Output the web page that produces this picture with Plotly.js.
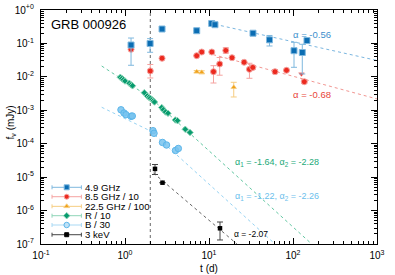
<!DOCTYPE html>
<html><head><meta charset="utf-8">
<script src="https://cdn.plot.ly/plotly-3.0.1.min.js"></script>
<style>html,body{margin:0;padding:0;background:#fff}#chart{width:395px;height:275px}</style>
</head><body><div id="chart"></div>
<script>
// ---- data ----
var radio49T  = [1.18, 1.99, 2.76, 7.14, 10.77, 11.78, 33.4, 52.5, 102.8, 129, 146.7];
var radio49F  = [0.0897, 0.0995, 0.270, 0.240, 0.395, 0.363, 0.202, 0.128, 0.0606, 0.0535, 0.122];
var radio49Hi = [0.145, 0.139, null, null, null, null, null, 0.173, 0.108, 0.0942, null];
var radio49Lo = [0.0222, 0.0543, null, null, null, null, null, 0.0838, 0.0193, 0.0122, null];

var radio85T  = [1.18, 2.0, 2.76, 7.14, 8.19, 10.8, 11.31, 13.4, 15.85, 18.79, 26.2, 30.3, 33.2, 61.1, 83.7, 136.4];
var radio85F  = [0.0667, 0.0150, 0.0359, 0.0430, 0.0554, 0.0554, 0.01427, 0.0243, 0.0615, 0.0374, 0.0273, 0.0168, 0.0191, 0.01427, 0.0157, 0.00716];
var radio85Hi = [null, 0.0234, null, null, null, null, 0.0216, 0.0379, 0.0745, null, null, 0.0255, 0.0215, 0.0165, null, 0.0082];
var radio85Lo = [null, 0.00925, null, null, null, null, 0.00655, 0.0112, 0.0507, null, null, 0.00906, 0.0170, 0.0125, null, 0.0063];
var radio85LimT = [126];
var radio85LimF = [0.0122];

var radio225T  = [7.14, 8.19, 19.7];
var radio225F  = [0.01427, 0.01369, 0.00487];
var radio225Hi = [0.0155, 0.0152, 0.00688];
var radio225Lo = [0.0131, 0.0123, 0.0025];

var optRT = [0.879, 0.920, 0.959, 1.0, 1.125, 1.179, 1.229, 1.698, 1.843, 1.931, 2.0, 2.096, 2.173, 2.245, 2.735, 2.857, 3.035, 3.25, 3.97, 4.22, 5.22, 5.94];
var optRF = [0.00970, 0.00893, 0.00817, 0.00752, 0.00642, 0.00578, 0.00540, 0.00336, 0.00267, 0.00245, 0.00228, 0.00206, 0.00190, 0.00177, 0.00121, 0.00104, 0.000889, 0.000813, 0.000513, 0.000489, 0.000270, 0.000217];

var optBT = [0.896, 0.973, 1.028, 1.179, 1.221, 2.154, 2.215, 2.795, 3.119, 3.99, 4.31];
var optBF = [0.001034, 0.000829, 0.000738, 0.000661, 0.000675, 0.000245, 0.000205, 0.000109, 0.0000916, 0.0000627, 0.0000720];

var xrayT  = [2.276, 2.795, 13.52];
var xrayF  = [1.766e-5, 6.82e-6, 2.95e-7];
var xrayHi = [2.39e-5, null, 4.55e-7];
var xrayLo = [1.2e-5, null, 1.32e-7];

// fitted power laws (end points)
var fit49T = [11.8, 1000],   fit49F = [0.373, 0.0309];
var fit85T = [11.2, 1000],   fit85F = [0.0463, 0.00218];
var fitRT  = [0.528, 2.03, 167], fitRF = [0.0211, 0.00233, 1e-7];
var fitBT  = [0.528, 2.0, 61.1], fitBF = [0.00123, 0.000242, 1e-7];
var fitXT  = [2.18, 21.5],   fitXF = [1.33e-5, 1e-7];
var breakTime = 2.0;

var legendNames = ['4.9 GHz', '8.5 GHz / 10', '22.5 GHz / 100', 'R / 10', 'B / 30', '3 keV'];
var fitLabels = ['α = -0.56', 'α = -0.68', 'α<sub>1</sub> = -1.64, α<sub>2</sub> = -2.28', 'α<sub>1</sub> = -1.22, α<sub>2</sub> = -2.26', 'α = -2.07'];
var xTickVals = [0.1, 1, 10, 100, 1000];
var xTickText = ['10<sup>-1</sup>', '10<sup>0</sup>', '10<sup>1</sup>', '10<sup>2</sup>', '10<sup>3</sup>'];
var yTickVals = [1e-7, 1e-6, 1e-5, 1e-4, 1e-3, 1e-2, 1e-1, 1];
var yTickText = ['10<sup>-7</sup>', '10<sup>-6</sup>', '10<sup>-5</sup>', '10<sup>-4</sup>', '10<sup>-3</sup>', '10<sup>-2</sup>', '10<sup>-1</sup>', '10<sup>+0</sup>'];
var yTitle = 'f<sub>ν</sub> (mJy)';
var xTitle = 't (d)';

// ---- styling ----
var C = {
  b49: '#0b6db3', b49L: '#7fb8de',
  r85: '#ec2a1f', r85L: '#f5a3a0',
  o225: '#f0a21a', o225L: '#f6cd80',
  gR: '#079b6e', gRL: '#8fd5b8',
  lB: '#5cb6ea', lBL: '#a9d9f4',
  k: '#000000', kL: '#444444'
};

function errs(f, hi, lo) {
  return {
    plus: f.map(function (v, i) { return hi[i] == null ? 0 : hi[i] - v; }),
    minus: f.map(function (v, i) { return lo[i] == null ? 0 : v - lo[i]; })
  };
}
function minorVals(lo, hi) {
  var out = [];
  for (var e = lo; e < hi; e++) for (var m = 2; m <= 9; m++) out.push(m * Math.pow(10, e));
  return out;
}

var e49 = errs(radio49F, radio49Hi, radio49Lo);
var e85 = errs(radio85F, radio85Hi, radio85Lo);
var e225 = errs(radio225F, radio225Hi, radio225Lo);
var eX = errs(xrayF, xrayHi, xrayLo);

function fitLine(t, f, col, dash) {
  return {x: t, y: f, mode: 'lines', type: 'scatter', showlegend: false, hoverinfo: 'skip',
    line: {color: col, width: 1, dash: dash || 'dot'}};
}
function eb(e, col) {
  return {type: 'data', symmetric: false, array: e.plus, arrayminus: e.minus, color: col, thickness: 1, width: 3};
}

var traces = [
  fitLine(fit49T, fit49F, '#7ab6e0'),
  fitLine(fit85T, fit85F, '#f29692'),
  fitLine(fitRT, fitRF, '#62c7a2'),
  fitLine(fitBT, fitBF, '#97d3f3'),
  fitLine(fitXT, fitXF, '#666666'),
  {x: optBT, y: optBF, mode: 'markers', type: 'scatter', showlegend: false,
    marker: {symbol: 'circle', size: 6.5, color: 'rgba(120,195,238,0.85)', line: {color: C.lB, width: 1}}},
  {x: optRT, y: optRF, mode: 'markers', type: 'scatter', showlegend: false,
    marker: {symbol: 'diamond', size: 5, color: C.gR, line: {color: C.gRL, width: 1}}},
  {x: radio225T, y: radio225F, mode: 'markers', type: 'scatter', showlegend: false, error_y: eb(e225, C.o225L),
    marker: {symbol: 'triangle-up', size: 5, color: C.o225, line: {color: C.o225L, width: 0.5}}},
  {x: radio85T, y: radio85F, mode: 'markers', type: 'scatter', showlegend: false, error_y: eb(e85, C.r85L),
    marker: {symbol: 'circle', size: 6, color: C.r85, line: {color: C.r85L, width: 1}}},
  {x: radio85LimT, y: radio85LimF, mode: 'markers', type: 'scatter', showlegend: false,
    marker: {symbol: 'triangle-down', size: 5, color: C.r85, line: {color: C.r85L, width: 0.5}}},
  {x: radio49T, y: radio49F, mode: 'markers', type: 'scatter', showlegend: false, error_y: eb(e49, C.b49L),
    marker: {symbol: 'square', size: 6, color: C.b49, line: {color: C.b49L, width: 1}}},
  {x: xrayT, y: xrayF, mode: 'markers', type: 'scatter', showlegend: false, error_y: eb(eX, C.kL),
    marker: {symbol: 'square', size: 4.5, color: C.k}}
];

// legend drawn inside plot in an overlay [0,1] frame
var legX = 0.0765, legHalf = 0.0437, legTextX = 0.128;
var legY = [0.2423, 0.2021, 0.161, 0.121, 0.0812, 0.0397];
var legSym = ['square', 'circle', 'triangle-up', 'diamond', 'circle', 'square'];
var legSize = [5, 5, 5, 5, 5.5, 4];
var legCol = [C.b49, C.r85, C.o225, C.gR, 'rgba(190,225,246,1)', C.k];
var legLine = [C.b49L, C.r85L, C.o225L, C.gRL, C.lB, C.k];
var legErr = [C.b49L, C.r85L, C.o225L, C.gRL, C.lBL, C.kL];
for (var i = 0; i < legendNames.length; i++) {
  traces.push({x: [legX], y: [legY[i]], xaxis: 'x2', yaxis: 'y2', mode: 'markers', type: 'scatter',
    showlegend: false, hoverinfo: 'skip',
    error_x: {type: 'constant', value: legHalf, color: legErr[i], thickness: 1, width: 2},
    marker: {symbol: legSym[i], size: legSize[i], color: legCol[i], line: {color: legLine[i], width: 1}}});
}

var fontFam = 'Liberation Sans, Arial, sans-serif';
var annotations = [
  {text: 'GRB 000926', x: 0.028, y: 0.938, font: {size: 13, color: '#000'}},
  {text: fitLabels[0], x: 0.748, y: 0.897, font: {size: 9.5, color: '#3d8fcc'}},
  {text: fitLabels[1], x: 0.748, y: 0.637, font: {size: 9.5, color: '#e8463a'}},
  {text: fitLabels[2], x: 0.575, y: 0.347, font: {size: 9, color: '#22a979'}},
  {text: fitLabels[3], x: 0.575, y: 0.202, font: {size: 9, color: '#6cc0ec'}},
  {text: fitLabels[4], x: 0.572, y: 0.043, font: {size: 8.5, color: '#000'}}
];
for (var j = 0; j < legendNames.length; j++) {
  annotations.push({text: legendNames[j], x: legTextX, y: legY[j], font: {size: 9.6, color: '#000'}});
}
annotations.forEach(function (a) {
  a.xref = 'paper'; a.yref = 'paper'; a.xanchor = 'left'; a.yanchor = 'middle'; a.showarrow = false; a.borderpad = 0;
});
annotations.push({text: yTitle, xref: 'paper', yref: 'paper', x: -0.089, y: 0.52, textangle: -90,
  xanchor: 'center', yanchor: 'middle', showarrow: false, borderpad: 0, font: {size: 10, color: '#000'}});

var axisCommon = {
  type: 'log', showgrid: false, zeroline: false, showline: true, linecolor: '#000', linewidth: 1.2,
  mirror: 'allticks', ticks: 'inside', ticklen: 6, tickcolor: '#000', tickwidth: 1,
  tickmode: 'array', tickfont: {size: 10, color: '#000', family: fontFam}
};

var layout = {
  width: 395, height: 275,
  margin: {l: 41, r: 18, t: 10, b: 31},
  paper_bgcolor: '#fff', plot_bgcolor: '#fff',
  font: {family: fontFam, size: 10, color: '#000'},
  showlegend: false,
  xaxis: Object.assign({}, axisCommon, {
    range: [-1, 3], tickvals: xTickVals, ticktext: xTickText, ticklabelstandoff: 2,
    minor: {tickmode: 'array', tickvals: minorVals(-1, 3), ticks: 'inside', ticklen: 3, tickcolor: '#000'},
    title: {text: xTitle, font: {size: 10}, standoff: 4}
  }),
  yaxis: Object.assign({}, axisCommon, {
    range: [-7, 0], tickvals: yTickVals, ticktext: yTickText, ticklabelstandoff: 4,
    minor: {tickmode: 'array', tickvals: minorVals(-7, 0), ticks: 'inside', ticklen: 3, tickcolor: '#000'}
  }),
  xaxis2: {overlaying: 'x', range: [0, 1], visible: false, fixedrange: true},
  yaxis2: {overlaying: 'y', range: [0, 1], visible: false, fixedrange: true},
  shapes: [{type: 'line', xref: 'x', yref: 'paper', x0: breakTime, x1: breakTime, y0: 0, y1: 1,
    line: {color: '#666', width: 1, dash: 'dot'}, layer: 'below'}],
  annotations: annotations
};

Plotly.newPlot('chart', traces, layout, {staticPlot: true, displayModeBar: false});
</script></body></html>
